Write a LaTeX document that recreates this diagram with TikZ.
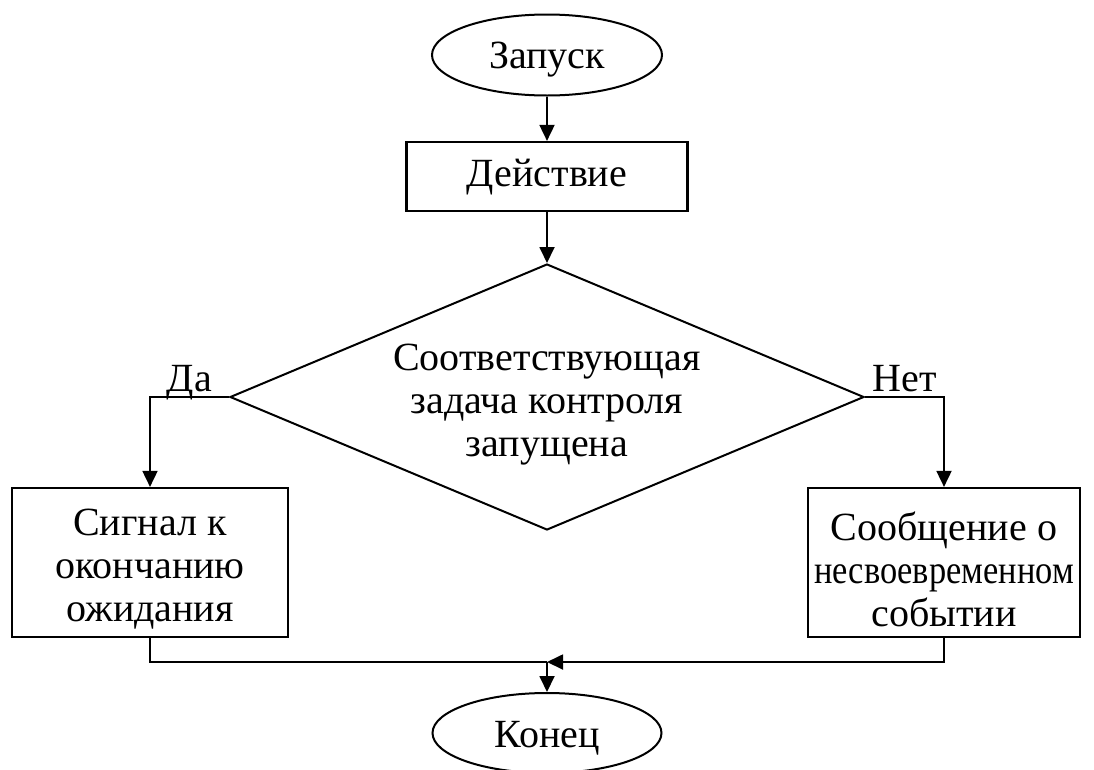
\documentclass[tikz,border=0pt]{standalone}
\usepackage{fontspec}
\usepackage{graphicx}
\setmainfont{Liberation Serif}
\usetikzlibrary{shapes.geometric,arrows.meta}
\begin{document}
\begin{tikzpicture}[x=1pt,y=-1pt,
  every node/.style={font=\fontsize{40}{43}\selectfont, inner sep=0pt, align=center},
  term/.style={ellipse, draw, line width=2pt},
  proc/.style={rectangle, draw, line width=2.2pt},
  dec/.style={diamond, draw, line width=2pt, aspect=2.38},
  conn/.style={line width=1.8pt},
  arr/.style={conn, -{Triangle[length=16pt,width=15pt]}},
  lbl/.style={anchor=base, inner sep=0pt, yshift=6pt}]
\useasboundingbox (0,0) rectangle (1094,769);
\node[term, minimum width=230pt, minimum height=81pt,
  label={[name=starttext, yshift=-5pt]center:Запуск}] (start) at (547,55) {};
\node[proc, minimum width=281pt, minimum height=69pt,
  label={[name=acttext, yshift=-1pt]center:Действие}] (act) at (547,176.5) {};
\node[dec, minimum width=634pt, minimum height=266pt,
  label={[name=condtext, yshift=-8pt]center:{Соответствующая\\задача контроля\\запущена}}] (cond) at (547,397) {};
\node[proc, minimum width=276pt, minimum height=149pt,
  label={[name=lefttext, yshift=-7pt]center:{Сигнал к\\окончанию\\ожидания}}] (left) at (150,562.5) {};
\node[proc, minimum width=272pt, minimum height=149pt,
  label={[name=righttext, yshift=-7pt]center:{Сообщение о\\\scalebox{0.86}[1]{несвоевременном}\\событии}}] (right) at (944,562.5) {};
\node[term, minimum width=229pt, minimum height=80pt,
  label={[name=endtext, yshift=-5pt]center:Конец}] (end) at (547,733) {};
\coordinate (j) at (547,662);
\draw[arr] (start) -- (act);
\draw[arr] (act) -- (cond);
\draw[arr] (cond.west) -| node[lbl, pos=0.25] {Да} (left.north);
\draw[arr] (cond.east) -| node[lbl, pos=0.25] {Нет} (right.north);
\draw[conn] (left.south) |- (j);
\draw[arr] (right.south) |- (j);
\draw[arr] (j) -- (end);
\end{tikzpicture}
\end{document}
